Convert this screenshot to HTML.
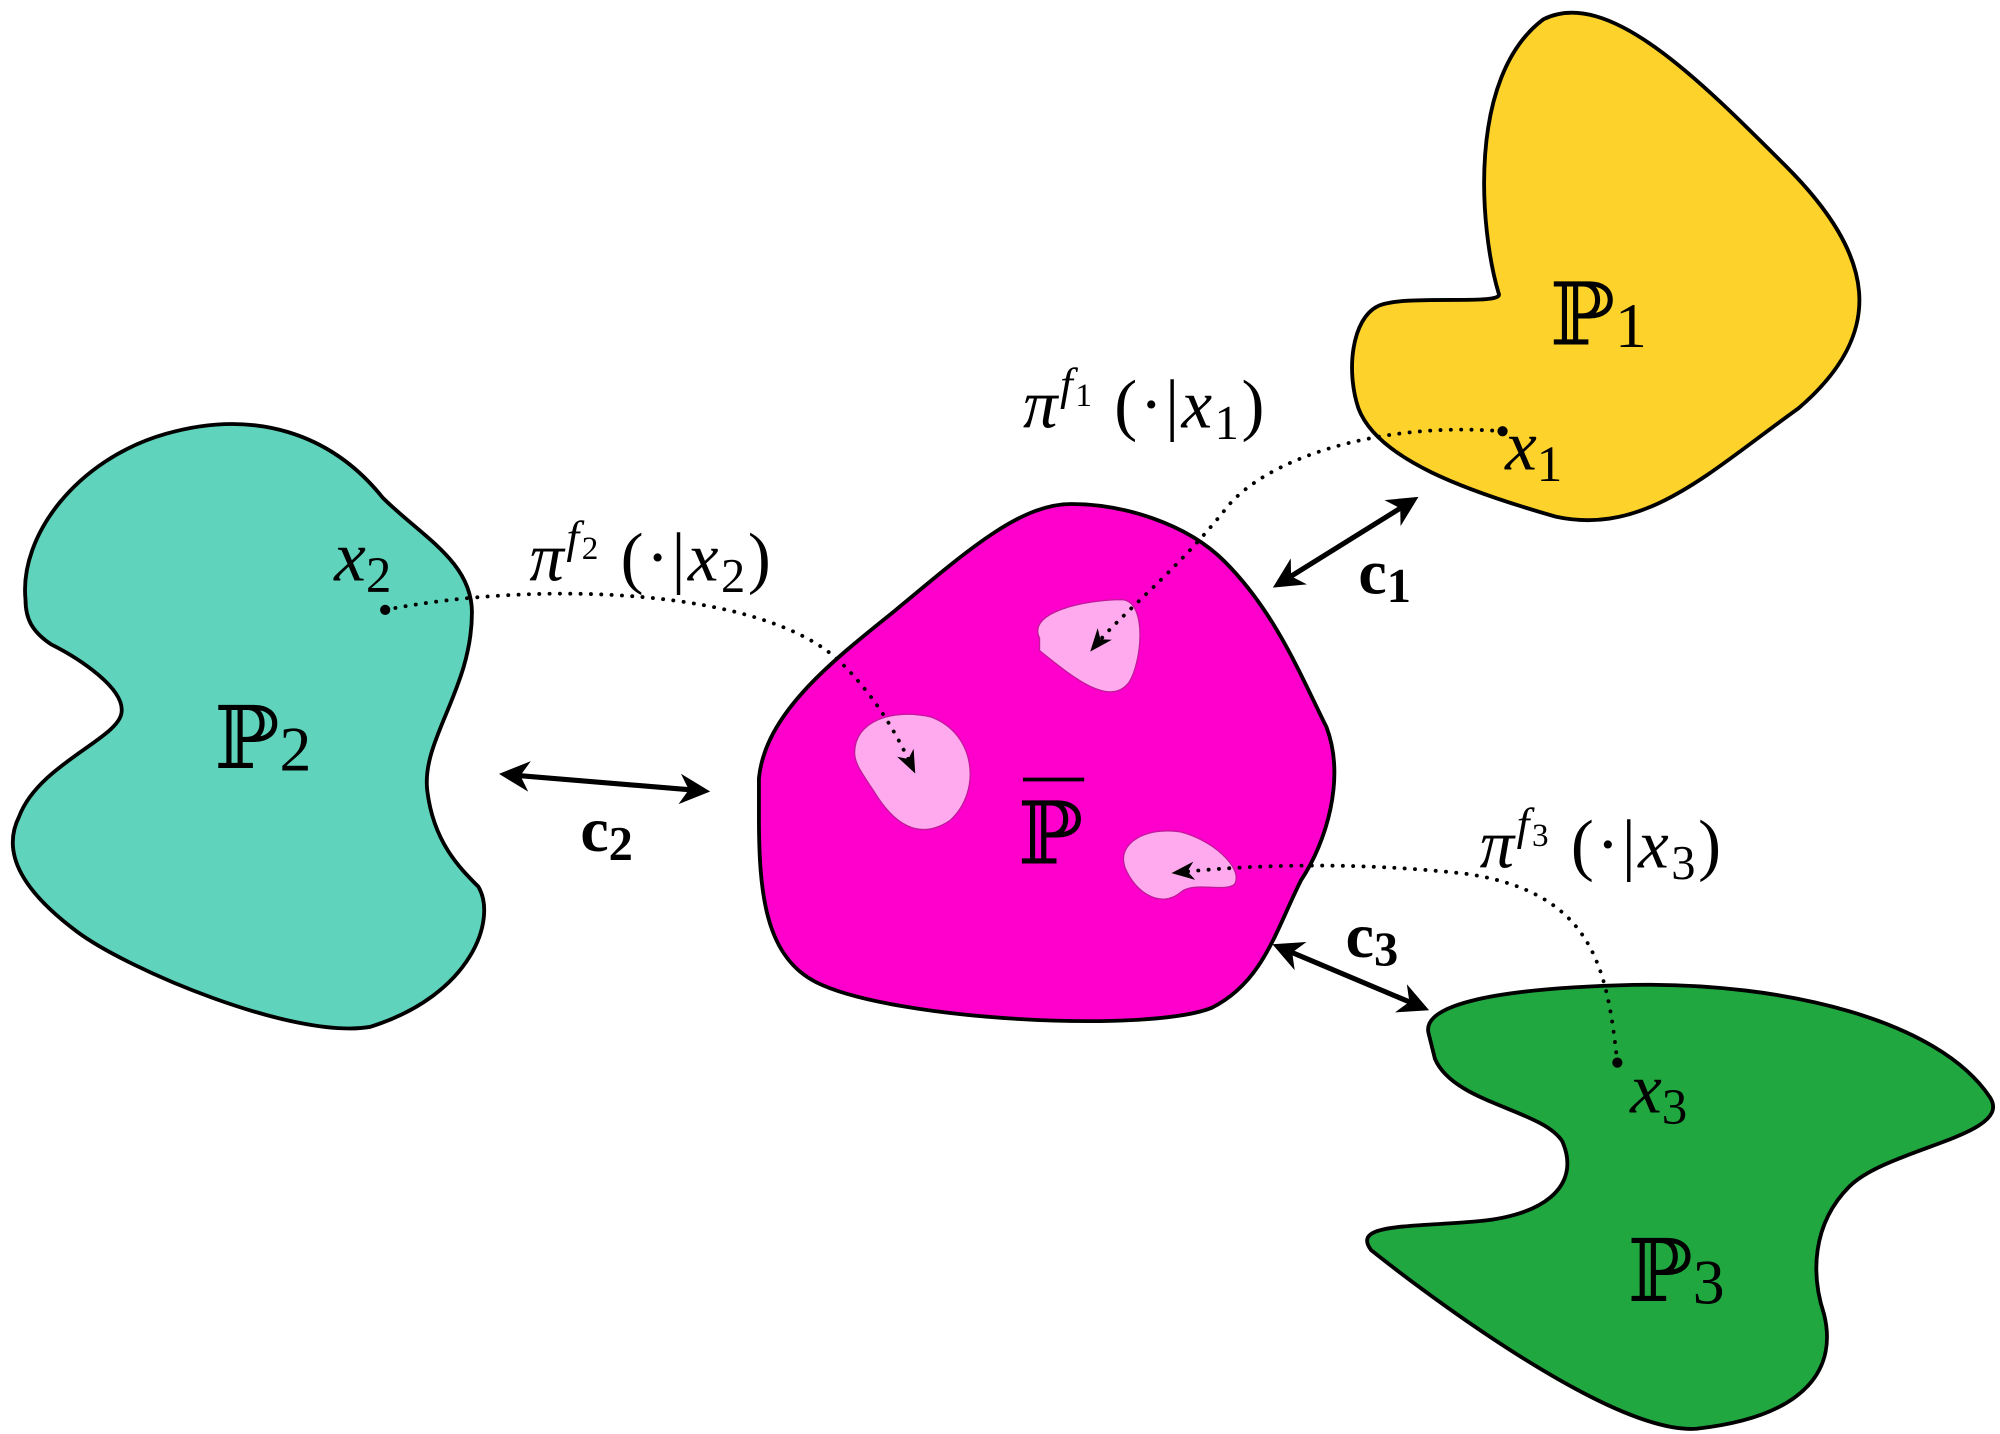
<!DOCTYPE html>
<html><head><meta charset="utf-8"><style>
html,body{margin:0;padding:0;background:#fff;width:2000px;height:1434px;overflow:hidden}
svg{display:block}
text{font-family:"Liberation Serif","DejaVu Serif",serif}
.it{font-style:italic}
</style></head><body>
<svg width="2000" height="1434" viewBox="0 0 1568 1124" xmlns="http://www.w3.org/2000/svg">
<defs>
<marker id="ah" viewBox="0 0 10 10" refX="8" refY="5" markerWidth="6" markerHeight="6" orient="auto-start-reverse"><path d="M0,0 L10,5 L0,10 L3,5 Z" fill="#000"/></marker>
<marker id="ahs" viewBox="0 0 10 10" refX="8" refY="5" markerWidth="6" markerHeight="6" orient="auto"><path d="M0,1 L10,5 L0,9 L3,5 Z" fill="#000"/></marker>
</defs>
<path d="M1175,230 C1160,180 1150,60 1210,15 C1260,-10 1330,60 1400,130 C1470,200 1480,260 1410,320 C1340,370 1290,420 1220,405 C1150,385 1080,360 1065,320 C1055,290 1060,250 1080,240 C1100,230 1180,240 1175,230 Z" fill="#fdd22b" stroke="#000" stroke-width="3"/>
<path d="M20,470 C15,420 60,360 130,340 C200,320 260,340 300,390 C330,420 370,440 370,480 C370,540 330,580 335,620 C340,660 360,680 375,695 C390,720 370,780 290,805 C230,815 100,760 60,730 C20,700 0,670 15,640 C30,600 90,580 95,560 C100,540 60,515 40,505 C25,495 20,485 20,470 Z" fill="#5fd3bc" stroke="#000" stroke-width="3"/>
<path d="M595,610 C600,560 650,520 700,480 C760,430 800,395 840,395 C880,395 930,410 960,440 C1000,480 1020,530 1040,570 C1055,610 1040,660 1020,690 C1000,730 990,770 950,790 C900,810 700,800 640,770 C600,750 595,700 595,640 Z" fill="#ff00cc" stroke="#000" stroke-width="3"/>
<path d="M1120,810 C1115,790 1160,775 1280,772 C1400,770 1520,800 1560,860 C1580,890 1480,900 1450,930 C1420,960 1420,1000 1430,1030 C1440,1070 1420,1110 1330,1120 C1260,1125 1100,1000 1075,980 C1060,960 1100,962 1150,958 C1210,955 1240,930 1225,895 C1210,870 1140,865 1125,830 Z" fill="#21a73f" stroke="#000" stroke-width="3"/>
<path d="M815,500 C805,480 850,470 880,470 C900,472 895,520 885,535 C870,555 840,530 815,510 Z" fill="#ffaaee" stroke="#c0199a" stroke-width="1"/>
<path d="M670,590 C670,565 700,555 730,562 C765,575 770,620 745,643 C720,660 700,645 685,620 C675,605 670,598 670,590 Z" fill="#ffaaee" stroke="#c0199a" stroke-width="1"/>
<path d="M882,680 C875,660 900,648 925,652 C950,658 975,680 968,693 C960,700 935,690 925,700 C910,712 890,700 882,680 Z" fill="#ffaaee" stroke="#c0199a" stroke-width="1"/>
<g fill="none" stroke="#000" stroke-width="3" stroke-dasharray="0.1,8" stroke-linecap="round">
<path d="M1178,338 C1080,330 990,360 960,400 C920,450 880,480 857,508" marker-end="url(#ahs)"/>
<path d="M302,478 C420,455 600,460 660,520 C690,550 705,580 716,603" marker-end="url(#ahs)"/>
<path d="M1268,833 C1260,760 1250,700 1150,685 C1060,675 980,678 922,684" marker-end="url(#ahs)"/>
</g>
<circle cx="1178" cy="338" r="4" fill="#000"/><circle cx="302" cy="478" r="4" fill="#000"/><circle cx="1268" cy="833" r="4" fill="#000"/>
<g stroke="#000" stroke-width="4" fill="none">
<line x1="1002" y1="458" x2="1108" y2="392" marker-start="url(#ah)" marker-end="url(#ah)"/>
<line x1="396" y1="607" x2="552" y2="620" marker-start="url(#ah)" marker-end="url(#ah)"/>
<line x1="1002" y1="742" x2="1116" y2="790" marker-start="url(#ah)" marker-end="url(#ah)"/>
</g>
<text x="1215" y="270" font-size="68">ℙ<tspan font-size="50" dy="2">1</tspan></text>
<text x="168" y="602" font-size="68">ℙ<tspan font-size="50" dy="2">2</tspan></text>
<text x="1276" y="1020" font-size="68">ℙ<tspan font-size="50" dy="2">3</tspan></text>
<text x="798" y="677" font-size="68">ℙ</text>
<line x1="802" y1="611" x2="850" y2="611" stroke="#000" stroke-width="3"/>
<text x="1180" y="368" font-size="56"><tspan class="it">x</tspan><tspan font-size="40" dy="9">1</tspan></text>
<text x="262" y="455" font-size="56"><tspan class="it">x</tspan><tspan font-size="40" dy="9">2</tspan></text>
<text x="1278" y="872" font-size="56"><tspan class="it">x</tspan><tspan font-size="40" dy="9">3</tspan></text>
<text x="802" y="335" font-size="54" letter-spacing="2"><tspan class="it">π</tspan><tspan font-size="36" dy="-22" class="it">f</tspan><tspan font-size="26" dy="5">1</tspan><tspan dy="17"> (·|</tspan><tspan class="it">x</tspan><tspan font-size="38" dy="9">1</tspan><tspan dy="-9">)</tspan></text>
<text x="415" y="455" font-size="54" letter-spacing="2"><tspan class="it">π</tspan><tspan font-size="36" dy="-22" class="it">f</tspan><tspan font-size="26" dy="5">2</tspan><tspan dy="17"> (·|</tspan><tspan class="it">x</tspan><tspan font-size="38" dy="9">2</tspan><tspan dy="-9">)</tspan></text>
<text x="1160" y="680" font-size="54" letter-spacing="2"><tspan class="it">π</tspan><tspan font-size="36" dy="-22" class="it">f</tspan><tspan font-size="26" dy="5">3</tspan><tspan dy="17"> (·|</tspan><tspan class="it">x</tspan><tspan font-size="38" dy="9">3</tspan><tspan dy="-9">)</tspan></text>
<text x="1065" y="465" font-size="50" font-weight="bold">c<tspan font-size="38" dy="7">1</tspan></text>
<text x="455" y="667" font-size="50" font-weight="bold">c<tspan font-size="38" dy="7">2</tspan></text>
<text x="1055" y="750" font-size="50" font-weight="bold">c<tspan font-size="38" dy="7">3</tspan></text>
</svg>
</body></html>
